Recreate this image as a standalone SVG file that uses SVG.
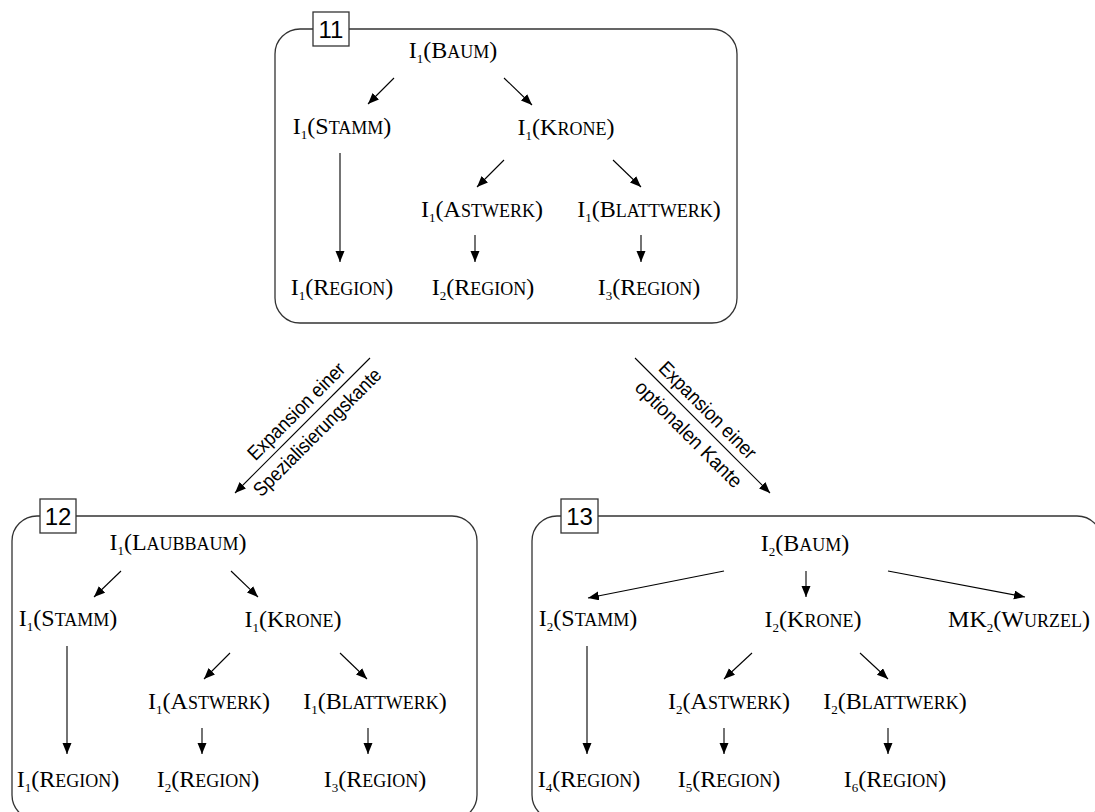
<svg xmlns="http://www.w3.org/2000/svg" width="1095" height="812" viewBox="0 0 1095 812">
  <style>
    .frame { fill: none; stroke: #333; stroke-width: 1.3; }
    .tag { fill: #fff; stroke: #333; stroke-width: 1.3; }
    .tagtext { font-family: "Liberation Sans", Arial, sans-serif; font-size: 24px; text-anchor: middle; fill: #000; }
    .n { font-family: "Liberation Serif", "Times New Roman", serif; font-size: 24px; text-anchor: middle; fill: #000; }
    .sub { font-size: 13px; }
    .sc { font-size: 18px; }
    .edge { stroke: #000; stroke-width: 1.1; fill: none; marker-end: url(#head); }
    .step { font-family: "Liberation Sans", Arial, sans-serif; font-size: 20px; text-anchor: middle; fill: #000; }
  </style>
  <defs>
    <marker id="head" markerUnits="userSpaceOnUse" markerWidth="12" markerHeight="10" refX="11" refY="4.5" orient="auto">
      <path d="M0,0 L11,4.5 L0,9 z" fill="#000"/>
    </marker>
  </defs>

  <!-- frames with their number tags -->
  <g id="frame11">
    <rect class="frame" x="275" y="29" width="462" height="294" rx="25"/>
    <rect class="tag" x="313" y="12" width="36" height="34"/>
    <text class="tagtext" x="331" y="38">11</text>
  </g>
  <g id="frame12">
    <rect class="frame" x="12" y="516" width="465" height="304" rx="25"/>
    <rect class="tag" x="40" y="499" width="36" height="34"/>
    <text class="tagtext" x="58" y="525">12</text>
  </g>
  <g id="frame13">
    <rect class="frame" x="532" y="516" width="570" height="304" rx="25"/>
    <rect class="tag" x="561" y="499" width="37" height="34"/>
    <text class="tagtext" x="579.5" y="525">13</text>
  </g>

  <!-- frame 11 nodes -->
  <g id="n11-baum"><text class="n" x="453" y="58">I<tspan class="sub" dy="5">1</tspan><tspan dy="-5">(B</tspan><tspan class="sc">AUM</tspan>)</text></g>
  <g id="n11-stamm"><text class="n" x="342" y="134">I<tspan class="sub" dy="5">1</tspan><tspan dy="-5">(S</tspan><tspan class="sc">TAMM</tspan>)</text></g>
  <g id="n11-krone"><text class="n" x="566" y="135">I<tspan class="sub" dy="5">1</tspan><tspan dy="-5">(K</tspan><tspan class="sc">RONE</tspan>)</text></g>
  <g id="n11-astwerk"><text class="n" x="482" y="217">I<tspan class="sub" dy="5">1</tspan><tspan dy="-5">(A</tspan><tspan class="sc">STWERK</tspan>)</text></g>
  <g id="n11-blattwerk"><text class="n" x="649" y="217">I<tspan class="sub" dy="5">1</tspan><tspan dy="-5">(B</tspan><tspan class="sc">LATTWERK</tspan>)</text></g>
  <g id="n11-region1"><text class="n" x="342" y="295">I<tspan class="sub" dy="5">1</tspan><tspan dy="-5">(R</tspan><tspan class="sc">EGION</tspan>)</text></g>
  <g id="n11-region2"><text class="n" x="483" y="295">I<tspan class="sub" dy="5">2</tspan><tspan dy="-5">(R</tspan><tspan class="sc">EGION</tspan>)</text></g>
  <g id="n11-region3"><text class="n" x="649" y="295">I<tspan class="sub" dy="5">3</tspan><tspan dy="-5">(R</tspan><tspan class="sc">EGION</tspan>)</text></g>

  <!-- frame 12 nodes -->
  <g id="n12-laubbaum"><text class="n" x="178" y="550">I<tspan class="sub" dy="5">1</tspan><tspan dy="-5">(L</tspan><tspan class="sc">AUBBAUM</tspan>)</text></g>
  <g id="n12-stamm"><text class="n" x="68" y="626">I<tspan class="sub" dy="5">1</tspan><tspan dy="-5">(S</tspan><tspan class="sc">TAMM</tspan>)</text></g>
  <g id="n12-krone"><text class="n" x="293" y="627">I<tspan class="sub" dy="5">1</tspan><tspan dy="-5">(K</tspan><tspan class="sc">RONE</tspan>)</text></g>
  <g id="n12-astwerk"><text class="n" x="209" y="709">I<tspan class="sub" dy="5">1</tspan><tspan dy="-5">(A</tspan><tspan class="sc">STWERK</tspan>)</text></g>
  <g id="n12-blattwerk"><text class="n" x="375" y="709">I<tspan class="sub" dy="5">1</tspan><tspan dy="-5">(B</tspan><tspan class="sc">LATTWERK</tspan>)</text></g>
  <g id="n12-region1"><text class="n" x="68" y="787">I<tspan class="sub" dy="5">1</tspan><tspan dy="-5">(R</tspan><tspan class="sc">EGION</tspan>)</text></g>
  <g id="n12-region2"><text class="n" x="208" y="787">I<tspan class="sub" dy="5">2</tspan><tspan dy="-5">(R</tspan><tspan class="sc">EGION</tspan>)</text></g>
  <g id="n12-region3"><text class="n" x="375" y="787">I<tspan class="sub" dy="5">3</tspan><tspan dy="-5">(R</tspan><tspan class="sc">EGION</tspan>)</text></g>

  <!-- frame 13 nodes -->
  <g id="n13-baum"><text class="n" x="805" y="551">I<tspan class="sub" dy="5">2</tspan><tspan dy="-5">(B</tspan><tspan class="sc">AUM</tspan>)</text></g>
  <g id="n13-stamm"><text class="n" x="588" y="626">I<tspan class="sub" dy="5">2</tspan><tspan dy="-5">(S</tspan><tspan class="sc">TAMM</tspan>)</text></g>
  <g id="n13-krone"><text class="n" x="813" y="627">I<tspan class="sub" dy="5">2</tspan><tspan dy="-5">(K</tspan><tspan class="sc">RONE</tspan>)</text></g>
  <g id="n13-wurzel"><text class="n" x="1019" y="627">MK<tspan class="sub" dy="5">2</tspan><tspan dy="-5">(W</tspan><tspan class="sc">URZEL</tspan>)</text></g>
  <g id="n13-astwerk"><text class="n" x="729" y="709">I<tspan class="sub" dy="5">2</tspan><tspan dy="-5">(A</tspan><tspan class="sc">STWERK</tspan>)</text></g>
  <g id="n13-blattwerk"><text class="n" x="895" y="709">I<tspan class="sub" dy="5">2</tspan><tspan dy="-5">(B</tspan><tspan class="sc">LATTWERK</tspan>)</text></g>
  <g id="n13-region4"><text class="n" x="589" y="787">I<tspan class="sub" dy="5">4</tspan><tspan dy="-5">(R</tspan><tspan class="sc">EGION</tspan>)</text></g>
  <g id="n13-region5"><text class="n" x="729" y="787">I<tspan class="sub" dy="5">5</tspan><tspan dy="-5">(R</tspan><tspan class="sc">EGION</tspan>)</text></g>
  <g id="n13-region6"><text class="n" x="895" y="787">I<tspan class="sub" dy="5">6</tspan><tspan dy="-5">(R</tspan><tspan class="sc">EGION</tspan>)</text></g>

  <!-- connectors -->
  <g id="connectors">
    <!-- frame 11 -->
    <line class="edge" x1="394" y1="78" x2="368" y2="104"/>
    <line class="edge" x1="504" y1="78" x2="532" y2="105"/>
    <line class="edge" x1="340" y1="153" x2="340" y2="262"/>
    <line class="edge" x1="504" y1="160" x2="477" y2="187"/>
    <line class="edge" x1="613" y1="160" x2="641" y2="187"/>
    <line class="edge" x1="475" y1="235" x2="475" y2="262"/>
    <line class="edge" x1="641" y1="235" x2="641" y2="262"/>
    <!-- frame 12 -->
    <line class="edge" x1="121" y1="571" x2="94" y2="597"/>
    <line class="edge" x1="231" y1="571" x2="258" y2="597"/>
    <line class="edge" x1="67" y1="646" x2="67" y2="754"/>
    <line class="edge" x1="230" y1="653" x2="204" y2="679"/>
    <line class="edge" x1="340" y1="653" x2="367" y2="679"/>
    <line class="edge" x1="202" y1="728" x2="202" y2="754"/>
    <line class="edge" x1="368" y1="728" x2="368" y2="754"/>
    <!-- frame 13 -->
    <line class="edge" x1="724" y1="571" x2="588" y2="598"/>
    <line class="edge" x1="806" y1="571" x2="806" y2="597"/>
    <line class="edge" x1="888" y1="571" x2="1025" y2="597"/>
    <line class="edge" x1="587" y1="646" x2="587" y2="754"/>
    <line class="edge" x1="752" y1="653" x2="724" y2="679"/>
    <line class="edge" x1="860" y1="653" x2="888" y2="679"/>
    <line class="edge" x1="724" y1="728" x2="724" y2="754"/>
    <line class="edge" x1="888" y1="728" x2="888" y2="754"/>
    <!-- expansion steps between frames -->
    <line class="edge" x1="370" y1="358" x2="235" y2="493"/>
    <line class="edge" x1="635" y1="358" x2="770" y2="493"/>
  </g>

  <!-- labels of the expansion steps -->
  <g id="step-labels">
    <text class="step" transform="translate(301,416) rotate(-45)" textLength="129" lengthAdjust="spacingAndGlyphs">Expansion einer</text>
    <text class="step" transform="translate(322,437) rotate(-45)" textLength="172" lengthAdjust="spacingAndGlyphs">Spezialisierungskante</text>
    <text class="step" transform="translate(703,415) rotate(45)" textLength="129" lengthAdjust="spacingAndGlyphs">Expansion einer</text>
    <text class="step" transform="translate(684,439) rotate(45)" textLength="142" lengthAdjust="spacingAndGlyphs">optionalen Kante</text>
  </g>
</svg>
